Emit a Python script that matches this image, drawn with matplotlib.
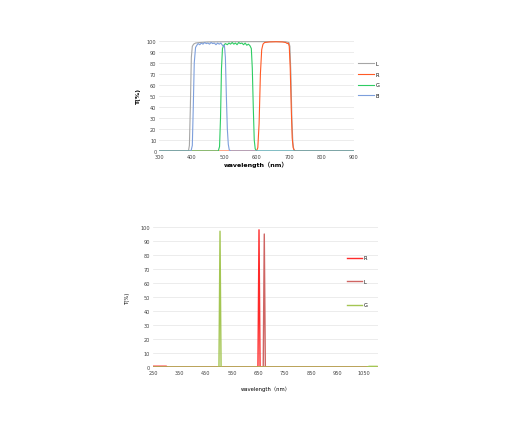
import matplotlib
matplotlib.use("Agg")
import matplotlib.pyplot as plt

plt.rcParams['font.family'] = ['DejaVu Sans', 'Noto Sans CJK SC']

# ---- top chart: L / R / G / B filter transmission ----
top_L = [(300, 0), (390, 0), (393, 5), (396, 40), (399, 85), (402, 95), (406, 97), (412, 98),
         (425, 98.5), (450, 99), (500, 99.2), (600, 99.3), (690, 99.2), (700, 98.5), (703, 95),
         (706, 70), (709, 30), (712, 8), (715, 1), (720, 0), (900, 0)]
top_B = [(300, 0), (398, 0), (402, 5), (405, 40), (408, 80), (412, 94), (416, 96), (420, 97.5),
         (425, 96.5), (430, 98), (435, 97), (440, 98.5), (445, 97.5), (450, 98), (455, 97),
         (460, 98.5), (465, 97.5), (470, 98), (475, 96.5), (480, 98), (485, 97), (490, 98),
         (495, 96), (498, 95), (501, 96), (504, 85), (507, 50), (510, 20), (513, 6), (516, 1),
         (520, 0), (900, 0)]
top_G = [(300, 0), (482, 0), (486, 4), (489, 30), (492, 75), (495, 93), (499, 96), (504, 97.5),
         (510, 96.5), (515, 98), (520, 97), (525, 98.5), (530, 97), (535, 98), (540, 96.5),
         (545, 98.5), (550, 97.5), (555, 98), (560, 96.5), (565, 98), (570, 96), (575, 97),
         (580, 95.5), (584, 93), (587, 75), (590, 40), (593, 10), (596, 2), (600, 0), (900, 0)]
top_R = [(300, 0), (600, 0), (604, 3), (608, 25), (612, 70), (616, 92), (620, 97), (625, 98.5),
         (640, 99), (660, 99.2), (680, 99), (690, 98.5), (695, 97.5), (698, 98), (701, 95),
         (704, 75), (707, 40), (710, 12), (713, 3), (717, 0.5), (722, 0), (900, 0)]

# ---- bottom chart: narrow band filters ----
bot_R = [(250, 0.6), (300, 0.6), (305, 0), (648, 0), (652, 98), (656, 0), (1100, 0)]
bot_L = [(250, 0), (668, 0), (672, 95), (676, 0), (1100, 0)]
bot_G = [(250, 0), (500, 0), (504, 97), (508, 0), (1060, 0), (1070, 0.5), (1100, 0.5)]

top_ticks = [300, 400, 500, 600, 700, 800, 900]
bot_ticks = [250, 350, 450, 550, 650, 750, 850, 950, 1050]
y_ticks = list(range(0, 101, 10))

fig = plt.figure(figsize=(5.12, 4.27), dpi=100)


def style(ax):
    for s in ['top', 'right', 'left', 'bottom']:
        ax.spines[s].set_visible(False)
    ax.set_yticks(y_ticks)
    ax.yaxis.grid(True, color='#e4e4e4', linewidth=0.5)
    ax.set_axisbelow(True)
    ax.tick_params(length=0, labelsize=3.6, colors='#404040', pad=2)


ax1 = fig.add_axes([0.311, 0.644, 0.380, 0.258])
style(ax1)
for data, c, lab in [(top_L, '#a6a6a6', 'L'), (top_R, '#ff5a25', 'R'),
                     (top_G, '#2ecc63', 'G'), (top_B, '#7d9fdc', 'B')]:
    xs, ys = zip(*data)
    ax1.plot(xs, ys, color=c, linewidth=0.8, label=lab)
ax1.set_xlim(300, 900)
ax1.set_ylim(0, 100)
ax1.set_xticks(top_ticks)
ax1.set_xlabel('wavelength（nm）', fontsize=4.5, fontweight='bold', labelpad=1)
ax1.set_ylabel('T(%)', fontsize=4.5, fontweight='bold', labelpad=4)
ax1.legend(loc='upper left', bbox_to_anchor=(1.0, 0.86), frameon=False, fontsize=3.6,
           handlelength=3.2, labelspacing=1.15, handletextpad=0.3)

ax2 = fig.add_axes([0.299, 0.138, 0.440, 0.328])
style(ax2)
for data, c, lab in [(bot_R, '#ff2b2b', 'R'), (bot_L, '#cf6563', 'L'), (bot_G, '#a4c653', 'G')]:
    xs, ys = zip(*data)
    ax2.plot(xs, ys, color=c, linewidth=1.0, label=lab)
ax2.set_xlim(250, 1105)
ax2.set_ylim(0, 100)
ax2.set_xticks(bot_ticks)
ax2.set_xlabel('wavelength（nm）', fontsize=3.8, labelpad=8)
ax2.set_ylabel('T(%)', fontsize=3.8, labelpad=8)
ax2.legend(loc='upper left', bbox_to_anchor=(0.842, 0.83), frameon=False, fontsize=3.6,
           handlelength=3, labelspacing=3.7, handletextpad=0.3)

fig.savefig('out.png', dpi=100, facecolor='white')
